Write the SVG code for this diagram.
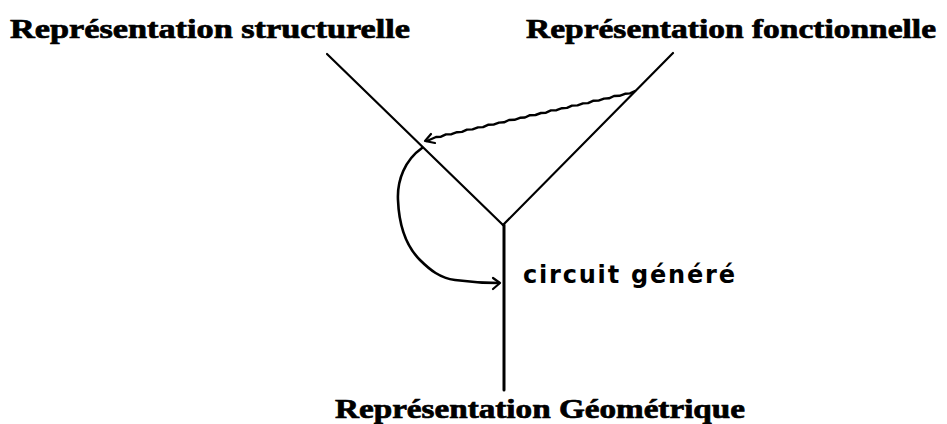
<svg xmlns="http://www.w3.org/2000/svg" width="947" height="424" viewBox="0 0 947 424">
<style>
.title{font-family:"Liberation Serif","DejaVu Serif",serif;font-weight:bold;font-size:27px;fill:#000;stroke:#000;stroke-width:0.7}
.lbl{font-family:"DejaVu Sans","Liberation Sans",sans-serif;font-weight:bold;font-size:24px;fill:#000}
.ln{stroke:#000;fill:none;stroke-linecap:round;stroke-linejoin:round}
</style>
<rect width="947" height="424" fill="#fff"/>
<g id="structurelle"><text class="title" x="10" y="38" textLength="400" lengthAdjust="spacingAndGlyphs">Représentation structurelle</text></g>
<g id="fonctionnelle"><text class="title" x="526" y="38" textLength="410" lengthAdjust="spacingAndGlyphs">Représentation fonctionnelle</text></g>
<g id="geometrique"><text class="title" x="335" y="418" textLength="410" lengthAdjust="spacingAndGlyphs">Représentation Géométrique</text></g>
<g id="circuit"><text class="lbl" x="523" y="283" textLength="212" lengthAdjust="spacing">circuit généré</text></g>
<g id="connectors">
<line class="ln" x1="327" y1="54" x2="503" y2="225" stroke-width="2.2"/>
<line class="ln" x1="673" y1="53" x2="503" y2="225" stroke-width="2.2"/>
<line class="ln" x1="504" y1="225" x2="504" y2="390" stroke-width="3"/>
<polyline class="ln" stroke-width="2.4" points="635,91 630,93.4 625,93.8 619.5,95.8 614,96 609,98.3 604,98.6 598.5,100.6 593,100.8 588,103.1 583,103.4 577.5,105.4 572,105.6 567,107.9 562,108.2 556.5,110.2 551,110.4 546,112.7 541,113 535.5,115 530,115.2 525,117.5 520,117.8 514.5,119.8 509,120 504,122.3 499,122.6 493.5,124.6 488,124.8 483,127.1 478,127.4 472.5,129.4 467,129.6 462,131.9 457,132.2 451.5,134.2 446,134.4 441,136.7 436,137 427,141"/>
<polyline class="ln" stroke-width="2.2" points="431,134 425,141 435,143"/>
<path class="ln" stroke-width="2.6" d="M422,148 C405,160 397,180 398,200 C399,225 405,245 420,260 C430,270 440,278 455,280 C470,282 485,283 499,283"/>
<polyline class="ln" stroke-width="2.2" points="493,278 500,283 493,289"/>
</g>
</svg>
